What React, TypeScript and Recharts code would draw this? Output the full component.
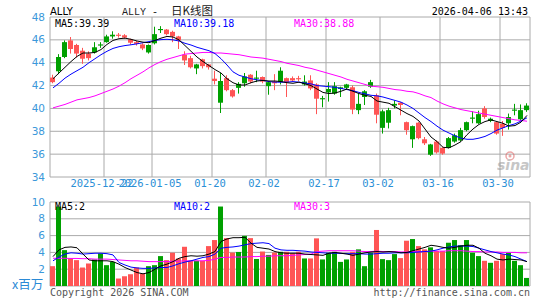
import React from 'react';
import { ComposedChart, Bar, Line, XAxis, YAxis, CartesianGrid } from 'recharts';

const GREEN = '#00a000';
const RED = '#ff5555';
const GRID = '#aaaaaa';

const opens = [42.7,43.25,44.5,45.95,45.55,45.05,44.8,44.9,45.5,45.8,46.3,46.45,46.4,46.05,45.8,45.6,44.9,45.7,46.85,46.9,46.7,46.3,44.7,44.4,43.5,44.3,43.85,42.6,40.5,42.65,41.6,41.8,42.2,42.95,42.6,42.75,41.95,42.35,42.3,42.65,42.65,42.65,42.1,42.45,42.1,40.8,41.4,41.3,41.7,41.8,41.85,39.85,41.0,41.9,41.15,38.3,38.75,40.25,40.5,38.8,37.3,38.75,37.3,35.95,37.1,36.55,36.55,37.1,37.2,38.1,39.1,38.7,40.0,38.9,38.8,38.65,38.7,39.8,39.05,39.85];
const highs = [42.95,44.75,45.95,46.25,45.65,45.3,45.0,45.8,45.8,46.45,46.75,46.6,46.5,46.1,45.9,45.7,45.6,47.15,47.2,46.95,46.8,46.35,45.0,44.6,43.9,44.35,43.9,43.3,43.1,42.9,41.7,42.3,43.1,43.0,43.3,42.8,42.4,43.0,43.6,42.7,42.8,42.85,42.9,42.9,42.2,41.1,42.3,42.3,41.9,42.15,42.0,41.3,41.6,42.5,41.3,39.9,40.05,40.7,40.55,38.85,38.5,38.8,37.5,36.9,37.2,36.6,37.5,37.8,38.3,38.85,39.75,39.8,40.2,39.2,38.85,38.9,39.55,40.4,40.35,40.45];
const lows = [42.2,43.0,44.4,44.8,44.45,43.9,44.2,44.8,45.3,45.75,46.1,46.2,46.1,45.6,45.5,45.1,44.8,45.6,46.6,46.4,45.8,45.2,43.8,43.5,43.0,43.5,43.4,42.1,39.6,41.5,40.95,41.3,41.9,42.2,42.3,42.2,41.2,41.6,42.1,41.0,42.35,42.4,42.0,41.6,39.5,40.1,40.6,41.2,41.0,41.7,39.5,39.5,40.3,41.8,38.7,37.8,38.25,40.0,39.4,37.7,36.55,37.3,36.8,35.85,36.05,35.95,36.5,37.0,37.1,38.0,38.7,38.65,39.1,38.8,37.7,37.6,38.15,39.4,38.9,39.7];
const closes = [42.3,44.5,45.8,45.2,44.8,44.35,44.4,45.35,45.6,46.3,46.45,46.35,46.2,45.75,45.65,45.25,45.55,46.5,46.95,46.5,46.3,45.95,44.2,43.6,43.85,43.7,43.6,42.4,42.4,41.6,41.05,42.15,42.8,42.35,42.7,42.35,42.3,42.2,43.3,42.3,42.45,42.55,42.35,41.75,40.85,40.9,41.7,41.95,41.85,42.1,39.9,40.4,41.5,42.3,39.45,39.75,39.85,40.4,40.3,38.1,38.45,37.4,36.95,36.85,36.15,36.05,37.4,37.65,38.1,38.8,39.2,39.5,39.25,39.1,37.8,38.3,39.25,39.9,39.85,40.25];

const ma5 = [42.6,43.1,43.6,44.1,44.55,44.85,44.85,44.9,45.15,45.6,45.95,46.1,46.15,46.05,45.9,45.8,45.75,45.95,46.15,46.3,46.25,46.0,45.5,45.0,44.5,44.1,43.75,43.4,43.1,42.6,42.25,42.05,42.05,42.25,42.4,42.45,42.4,42.4,42.35,42.25,42.2,42.3,42.15,42.0,41.7,41.4,41.3,41.35,41.5,41.7,41.5,41.3,41.15,41.05,40.65,40.55,40.45,40.15,39.85,39.55,39.3,38.9,38.2,37.5,37.1,36.6,36.55,36.8,37.1,37.7,38.2,38.6,38.85,39.0,38.85,38.7,38.45,38.5,38.8,39.39];
const ma10 = [41.8,42.2,42.65,43.0,43.3,43.6,44.0,44.35,44.7,45.0,45.25,45.4,45.5,45.57,45.65,45.75,45.85,45.95,46.02,46.05,46.0,45.9,45.7,45.55,45.35,45.2,45.05,44.8,44.35,43.8,43.2,42.9,42.75,42.6,42.5,42.45,42.35,42.3,42.3,42.3,42.35,42.3,42.22,42.15,42.0,41.95,41.9,41.85,41.75,41.65,41.55,41.4,41.28,41.15,41.1,41.0,40.85,40.7,40.55,40.3,40.0,39.6,39.2,38.85,38.45,38.1,37.85,37.6,37.4,37.3,37.3,37.4,37.55,37.8,38.1,38.3,38.5,38.65,38.9,39.18];
const ma30 = [40.05,40.2,40.35,40.55,40.75,40.85,40.95,41.1,41.3,41.5,41.7,41.95,42.25,42.6,42.9,43.2,43.55,43.85,44.1,44.3,44.45,44.6,44.75,44.8,44.85,44.9,44.9,44.85,44.85,44.8,44.75,44.7,44.6,44.5,44.45,44.4,44.3,44.2,44.1,43.95,43.85,43.75,43.6,43.5,43.35,43.2,43.05,42.9,42.75,42.55,42.4,42.25,42.1,41.95,41.9,41.85,41.75,41.65,41.6,41.5,41.45,41.3,41.1,40.95,40.65,40.4,40.2,40.05,39.9,39.8,39.7,39.6,39.5,39.4,39.3,39.2,39.1,39.0,38.95,38.88];

const volumes = [2.36,9.46,4.27,3.28,3.08,2.2,2.68,3.16,3.88,2.48,2.87,0.89,1.16,1.4,2.2,1.48,2.36,2.48,3.56,3.08,3.96,3.28,4.67,3.0,3.0,3.0,4.75,5.47,9.46,5.7,3.98,4.05,5.97,5.7,3.22,4.1,3.7,3.98,4.07,4.07,3.88,4.07,3.28,3.28,5.67,3.16,3.96,4.07,2.87,3.16,4.07,4.36,2.36,3.96,6.67,3.2,3.08,3.8,3.32,5.39,5.59,4.75,4.36,4.6,4.16,4.16,5.15,5.47,4.87,5.47,3.96,3.56,3.0,2.76,3.0,3.8,3.96,3.0,2.48,0.96];
const vma5 = [3.5,4.3,4.6,4.65,4.55,3.8,3.1,3.0,3.0,3.0,2.9,2.6,2.2,1.9,1.6,1.45,1.6,2.0,2.4,2.6,2.9,3.3,3.5,3.6,3.55,3.6,3.8,4.1,5.3,5.6,5.75,5.75,5.8,5.1,4.6,4.5,4.4,4.1,3.95,3.9,3.9,3.9,3.8,3.75,3.7,3.65,3.9,4.0,3.9,3.8,3.65,3.8,3.95,4.05,4.1,4.05,4.1,4.05,3.95,4.0,4.2,4.4,4.6,4.85,4.75,4.6,4.5,4.6,4.75,4.85,4.85,4.5,3.9,3.6,3.2,3.1,3.2,3.15,3.1,2.9];
const vma10 = [3.0,3.45,3.8,3.95,3.9,3.8,3.85,3.9,3.9,3.85,3.7,2.8,2.5,2.25,2.15,2.1,2.1,2.15,2.2,2.2,2.4,2.65,2.85,3.0,3.2,3.4,3.5,3.8,4.5,4.6,4.65,4.75,4.9,5.05,5.1,5.15,5.05,4.5,4.3,4.25,4.25,4.2,4.15,4.05,4.0,3.95,3.9,3.9,3.88,3.85,3.85,3.85,3.8,3.8,3.85,3.9,3.9,3.95,3.95,3.95,4.0,4.05,4.1,4.15,4.3,4.5,4.65,4.75,4.75,4.75,4.7,4.5,4.3,4.1,3.95,3.8,3.7,3.5,3.2,2.9];
const vma30 = [3.3,3.3,3.3,3.28,3.28,3.25,3.25,3.2,3.2,3.2,3.15,3.1,3.05,3.0,3.0,2.95,2.9,2.9,2.9,2.9,2.95,2.95,3.0,3.0,3.0,3.0,3.05,3.2,3.4,3.4,3.45,3.45,3.45,3.5,3.5,3.55,3.55,3.6,3.6,3.6,3.65,3.7,3.75,3.8,4.1,4.15,4.2,4.2,4.2,4.2,4.2,4.15,4.1,4.1,4.15,4.1,4.1,4.1,4.05,4.05,4.1,4.1,4.1,4.15,4.15,4.15,4.2,4.2,4.2,4.15,4.1,4.1,4.05,4.05,4.05,4.0,4.0,4.0,3.95,3.95];

const dateTickIdx = [9, 17, 27, 36, 46, 55, 65, 75];
const dateTickLabels = ['2025-12-22', '2026-01-05', '01-20', '02-02', '02-17', '03-02', '03-16', '03-30'];
const priceTicks = [34, 36, 38, 40, 42, 44, 46, 48];
const volTicks = [0, 2, 4, 6, 8, 10];

const data = opens.map((o, i) => ({
  i,
  x: i + 0.5,
  open: o,
  high: highs[i],
  low: lows[i],
  close: closes[i],
  range: [lows[i], highs[i]],
  ma5: ma5[i],
  ma10: ma10[i],
  ma30: ma30[i],
  vol: volumes[i],
  vma5: vma5[i],
  vma10: vma10[i],
  vma30: vma30[i],
}));

const Candle = (props: any) => {
  const { x, y, height, payload } = props;
  if (!payload) return null;
  const { open, close, high, low } = payload;
  const color = close >= open ? GREEN : RED;
  const top = Math.min(y, y + height);
  const h = Math.abs(height);
  const span = high - low;
  const k = span > 0 ? h / span : 0;
  const yO = top + (high - open) * k;
  const yC = top + (high - close) * k;
  const bTop = Math.min(yO, yC);
  const bH = Math.max(1, Math.abs(yO - yC));
  const bx = Math.round(x);
  return (
    <g>
      <rect x={bx + 2} y={top} width={1} height={Math.max(1, h)} fill={color} />
      <rect x={bx} y={bTop} width={5} height={bH} fill={color} />
    </g>
  );
};

const VolBar = (props: any) => {
  const { x, y, height, payload } = props;
  if (!payload) return null;
  const color = payload.close >= payload.open ? GREEN : RED;
  const top = Math.min(y, y + height);
  return <rect x={Math.round(x)} y={top} width={5} height={Math.abs(height)} fill={color} />;
};

const DateTick = (props: any) => {
  const { x, y, payload } = props;
  const idx = dateTickIdx.indexOf(payload.value);
  if (idx < 0) return null;
  return (
    <text x={x - 2} y={y + 10} textAnchor="middle" fill="#2b8fd6" fontFamily="DejaVu Sans Mono" fontSize={10.5}>
      {dateTickLabels[idx]}
    </text>
  );
};

const YTick = (props: any) => {
  const { x, y, payload } = props;
  if (payload.value === 0) return null;
  return (
    <text x={x} y={y} dy={3.5} textAnchor="end" fill="#3b98da" fontFamily="DejaVu Sans" fontSize={10.5}>
      {payload.value}
    </text>
  );
};

const mono = 'DejaVu Sans Mono';

export default function App() {
  return (
    <div style={{ position: 'absolute', left: 0, top: 0, width: 545, height: 300, background: '#fff', overflow: 'hidden' }}>
      <div style={{ position: 'absolute', left: 0, top: 0 }}>
        <ComposedChart width={545} height={195} data={data} margin={{ top: 17, right: 15, bottom: 0, left: 0 }} barCategoryGap={0} barGap={0}>
          <CartesianGrid xAxisId="num" yAxisId="p" stroke={GRID} />
          <XAxis
            xAxisId="num"
            dataKey="x"
            type="number"
            domain={[0, 80]}
            allowDataOverflow
            ticks={[0, ...dateTickIdx, 80]}
            interval={0}
            height={18}
            tickSize={0}
            tickMargin={0}
            axisLine={false}
            tickLine={false}
            tick={<DateTick />}
          />
          <XAxis xAxisId="cat" dataKey="i" type="category" hide height={0} />
          <YAxis
            yAxisId="p"
            domain={[34, 48]}
            allowDataOverflow
            ticks={priceTicks}
            interval={0}
            width={50}
            tickSize={0}
            tickMargin={5}
            axisLine={false}
            tickLine={false}
            tick={<YTick />}
          />
          <Bar xAxisId="cat" yAxisId="p" dataKey="range" shape={<Candle />} isAnimationActive={false} />
          <Line xAxisId="cat" yAxisId="p" dataKey="ma30" stroke="#ff00ff" strokeWidth={1} dot={false} isAnimationActive={false} />
          <Line xAxisId="cat" yAxisId="p" dataKey="ma10" stroke="#0000ff" strokeWidth={1} dot={false} isAnimationActive={false} />
          <Line xAxisId="cat" yAxisId="p" dataKey="ma5" stroke="#000000" strokeWidth={1} dot={false} isAnimationActive={false} />
        </ComposedChart>
      </div>
      <div style={{ position: 'absolute', left: 0, top: 195 }}>
        <ComposedChart width={545} height={105} data={data} margin={{ top: 7, right: 15, bottom: 14, left: 0 }} barCategoryGap={0} barGap={0}>
          <CartesianGrid xAxisId="num" yAxisId="v" stroke={GRID} />
          <XAxis xAxisId="num" dataKey="x" type="number" domain={[0, 80]} allowDataOverflow ticks={[0, 80]} hide height={0} />
          <XAxis xAxisId="cat" dataKey="i" type="category" hide height={0} />
          <YAxis
            yAxisId="v"
            domain={[0, 10]}
            allowDataOverflow
            ticks={volTicks}
            interval={0}
            width={50}
            tickSize={0}
            tickMargin={5}
            axisLine={false}
            tickLine={false}
            tick={<YTick />}
          />
          <Bar xAxisId="cat" yAxisId="v" dataKey="vol" shape={<VolBar />} isAnimationActive={false} />
          <Line xAxisId="cat" yAxisId="v" dataKey="vma30" stroke="#ff00ff" strokeWidth={1} dot={false} isAnimationActive={false} />
          <Line xAxisId="cat" yAxisId="v" dataKey="vma10" stroke="#0000ff" strokeWidth={1} dot={false} isAnimationActive={false} />
          <Line xAxisId="cat" yAxisId="v" dataKey="vma5" stroke="#000000" strokeWidth={1} dot={false} isAnimationActive={false} />
        </ComposedChart>
      </div>
      <svg width={545} height={300} style={{ position: 'absolute', left: 0, top: 0, pointerEvents: 'none' }}>
        <text x={50} y={15} fontFamily="DejaVu Sans" fontSize={10} fill="#000">ALLY</text>
        <text x={122} y={15} fontFamily="Liberation Mono" fontSize={10} fill="#222">ALLY -</text>
        <text x={171} y={15} fontFamily="Noto Sans CJK SC" fontSize={11.5} fill="#222">日K线图</text>
        <text x={528} y={15} textAnchor="end" fontFamily={mono} fontSize={10} fill="#000">2026-04-06 13:43</text>
        <text x={55} y={27} fontFamily={mono} fontSize={10} fill="#000">MA5:39.39</text>
        <text x={174} y={27} fontFamily={mono} fontSize={10} fill="#0000ff">MA10:39.18</text>
        <text x={294} y={27} fontFamily={mono} fontSize={10} fill="#ff00ff">MA30:38.88</text>
        <g opacity={0.55}>
          <circle cx={510} cy={156} r={4} fill="none" stroke="#e06060" strokeWidth={1.5} />
          <circle cx={510} cy={156} r={1.5} fill="#e06060" />
          <text x={497} y={170} fontFamily="DejaVu Sans" fontStyle="italic" fontWeight="bold" fontSize={14} fill="#999">sina</text>
        </g>
        <text x={55} y={210} fontFamily={mono} fontSize={10} fill="#000">MA5:2</text>
        <text x={174} y={210} fontFamily={mono} fontSize={10} fill="#0000ff">MA10:2</text>
        <text x={294} y={210} fontFamily={mono} fontSize={10} fill="#ff00ff">MA30:3</text>
        <text x={12} y={289} fontFamily="Noto Sans CJK SC" fontSize={12.5} fill="#2b8ad6">x百万</text>
        <text x={50} y={296} fontFamily={mono} fontSize={10} fill="#555">Copyright 2026 SINA.COM</text>
        <text x={530} y={296} textAnchor="end" fontFamily={mono} fontSize={10} fill="#555">http://finance.sina.com.cn</text>
      </svg>
    </div>
  );
}
